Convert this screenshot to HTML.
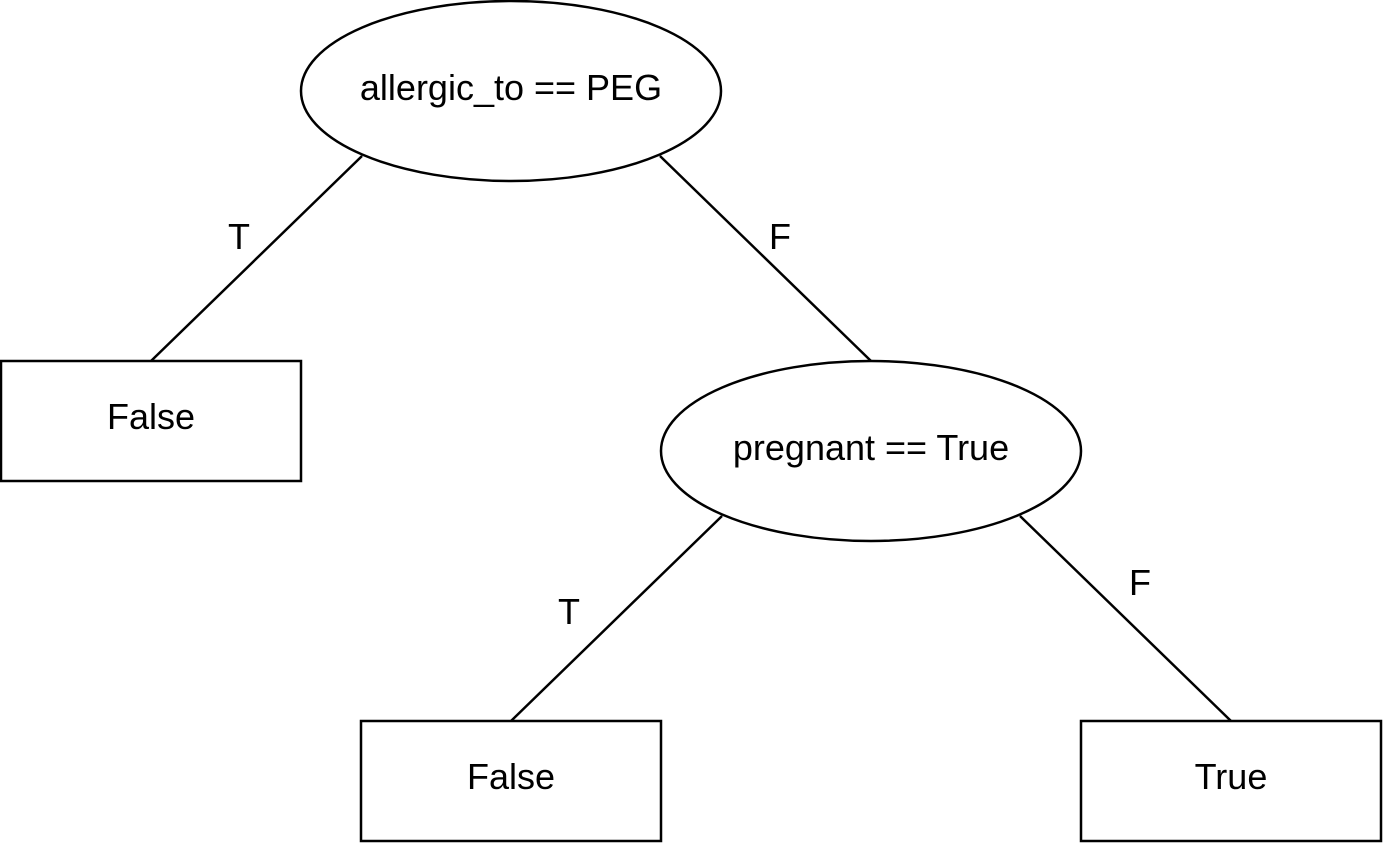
<!DOCTYPE html>
<html>
<head>
<meta charset="utf-8">
<style>
  html, body { margin: 0; padding: 0; background: #fff; }
  svg { display: block; }
  text { font-family: "Liberation Sans", Arial, sans-serif; font-size: 36px; fill: #000; }
</style>
</head>
<body>
<svg width="1383" height="843" viewBox="0 0 1383 843">
  <g stroke="#000" stroke-width="2.5" fill="none">
    <line x1="362" y1="156" x2="151" y2="361"/>
    <line x1="660" y1="156" x2="871" y2="361"/>
    <line x1="722" y1="516" x2="511" y2="721"/>
    <line x1="1020" y1="516" x2="1231" y2="721"/>
    <ellipse cx="511" cy="91" rx="210" ry="90" fill="#fff"/>
    <ellipse cx="871" cy="451" rx="210" ry="90" fill="#fff"/>
    <rect x="1" y="361" width="300" height="120" fill="#fff"/>
    <rect x="361" y="721" width="300" height="120" fill="#fff"/>
    <rect x="1081" y="721" width="300" height="120" fill="#fff"/>
  </g>
  <g text-anchor="middle">
    <text x="511" y="100">allergic_to == PEG</text>
    <text x="871" y="460">pregnant == True</text>
    <text x="151" y="429">False</text>
    <text x="511" y="789">False</text>
    <text x="1231" y="789">True</text>
    <text x="239" y="249">T</text>
    <text x="780" y="249">F</text>
    <text x="569" y="624">T</text>
    <text x="1140" y="595">F</text>
  </g>
</svg>
</body>
</html>
